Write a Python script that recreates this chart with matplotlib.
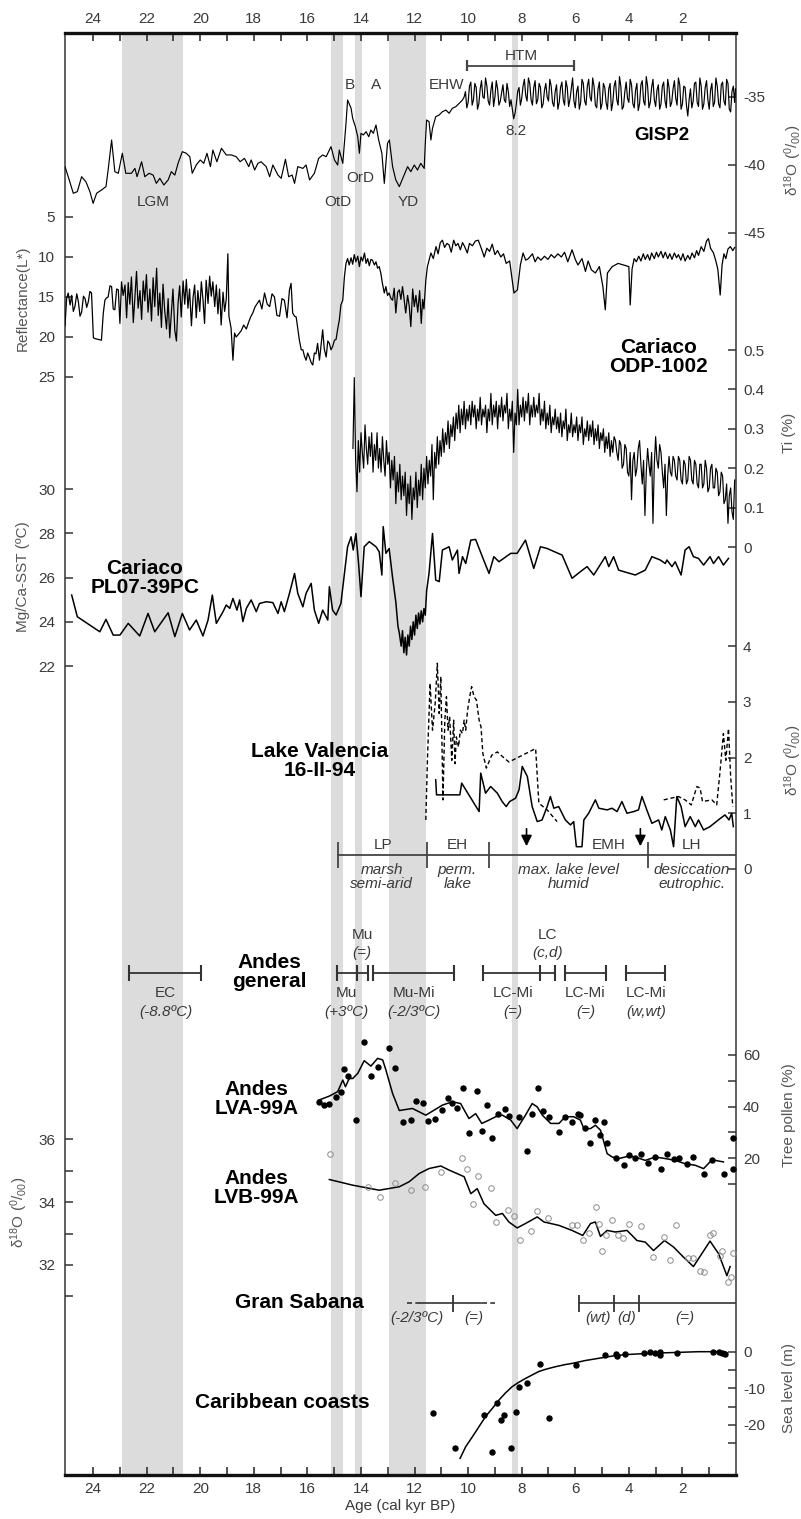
import matplotlib
matplotlib.use("Agg")
import matplotlib.pyplot as plt
import numpy as np

plt.rcParams["font.family"] = ["Liberation Sans", "DejaVu Sans"]
plt.rcParams["axes.unicode_minus"] = False
plt.rcParams["mathtext.fontset"] = "custom"
plt.rcParams["mathtext.rm"] = "Liberation Sans"
plt.rcParams["mathtext.it"] = "Liberation Sans:italic"

# ---------------------------------------------------------------
#  data (age in cal kyr BP, value)
# ---------------------------------------------------------------
bands = [(22.94, 20.64), (15.12, 14.68), (14.21, 13.96), (12.95, 11.58), (8.35, 8.14)]

gisp2 = [(25.05, -40.12), (24.93, -40.86), (24.74, -42.08), (24.59, -41.96), (24.43, -40.86),
         (24.27, -41.23), (24.12, -41.96), (24.00, -42.82), (23.87, -42.08), (23.69, -41.84),
         (23.52, -41.59), (23.44, -40.37), (23.31, -38.16), (23.19, -40.49), (23.06, -40.61),
         (22.91, -39.14), (22.78, -40.61), (22.57, -40.61), (22.44, -40.25), (22.36, -40.86),
         (22.19, -39.76), (22.07, -40.86), (21.91, -40.61), (21.76, -40.74), (21.64, -41.35),
         (21.51, -40.98), (21.36, -41.47), (21.20, -41.10), (21.08, -40.49), (20.95, -40.74),
         (20.83, -39.88), (20.67, -39.02), (20.52, -39.14), (20.39, -39.39), (20.30, -40.61),
         (20.15, -40.00), (20.00, -39.63), (19.87, -39.88), (19.75, -39.14), (19.62, -40.12),
         (19.53, -38.90), (19.38, -39.76), (19.21, -38.77), (19.03, -39.26), (18.84, -39.26),
         (18.66, -39.39), (18.51, -39.76), (18.35, -39.51), (18.19, -40.12), (18.10, -39.63),
         (17.97, -40.37), (17.85, -39.88), (17.73, -39.76), (17.54, -40.12), (17.41, -40.86),
         (17.29, -40.00), (17.10, -40.74), (16.98, -40.98), (16.82, -39.58), (16.70, -40.86),
         (16.57, -40.74), (16.48, -41.35), (16.36, -40.12), (16.17, -40.25), (16.05, -40.00),
         (15.92, -41.10), (15.74, -40.61), (15.58, -39.51), (15.43, -39.26), (15.30, -39.39),
         (15.12, -38.65), (14.99, -39.63), (14.87, -40.00), (14.81, -38.90), (14.68, -39.88),
         (14.56, -36.94), (14.50, -35.22), (14.37, -35.83), (14.31, -36.57), (14.21, -37.18),
         (14.12, -37.92), (14.06, -39.14), (14.00, -37.67), (13.91, -37.79), (13.81, -37.55),
         (13.71, -37.92), (13.63, -37.43), (13.54, -37.67), (13.44, -37.06), (13.34, -38.16),
         (13.22, -39.14), (13.13, -41.35), (13.01, -38.41), (12.94, -38.16), (12.82, -40.12),
         (12.70, -41.10), (12.57, -41.59), (12.39, -40.74), (12.26, -40.12), (12.14, -40.49),
         (12.01, -40.00), (11.89, -40.37), (11.77, -39.88), (11.64, -40.25), (11.60, -38.41),
         (11.55, -36.69), (11.46, -36.81), (11.39, -38.16), (11.33, -37.30), (11.21, -36.45),
         (11.08, -36.32), (10.96, -36.08), (10.83, -35.96), (10.71, -36.20), (10.59, -35.83),
         (10.46, -35.71), (10.34, -35.47), (10.21, -35.22),
         (10.15, -35.0), (10.10, -34.6), (10.05, -35.8), (10.00, -35.4), (9.95, -34.2), (9.90, -33.9),
         (9.85, -35.6), (9.80, -35.2), (9.75, -34.0), (9.70, -34.3), (9.65, -35.9), (9.60, -35.5),
         (9.55, -34.4), (9.50, -33.8), (9.45, -35.0), (9.40, -35.1), (9.35, -33.6), (9.30, -34.2),
         (9.25, -35.3), (9.20, -35.6), (9.15, -34.5), (9.10, -33.9), (9.05, -35.7), (9.00, -35.0),
         (8.95, -33.8), (8.90, -34.4), (8.85, -35.6), (8.80, -35.3), (8.75, -34.7), (8.70, -34.1),
         (8.65, -35.2), (8.60, -35.4), (8.55, -34.0), (8.50, -34.6), (8.45, -35.7), (8.40, -35.2),
         (8.35, -35.9), (8.30, -36.6), (8.25, -36.2), (8.20, -35.5), (8.15, -34.6), (8.10, -34.3),
         (8.05, -35.6), (8.00, -35.1), (7.95, -34.2), (7.90, -33.7), (7.85, -34.9), (7.80, -35.3),
         (7.75, -33.6), (7.70, -34.0), (7.65, -35.2), (7.60, -35.6), (7.55, -34.3), (7.50, -33.8),
         (7.45, -35.5), (7.40, -35.2), (7.35, -34.0), (7.30, -34.3), (7.25, -35.8), (7.20, -35.5),
         (7.15, -34.5), (7.10, -34.0), (7.05, -35.0), (7.00, -35.3), (6.95, -33.7), (6.90, -34.2),
         (6.85, -35.4), (6.80, -35.7), (6.75, -34.6), (6.70, -34.1), (6.65, -35.9), (6.60, -35.4),
         (6.55, -34.3), (6.50, -33.9), (6.45, -35.2), (6.40, -35.6), (6.35, -33.8), (6.30, -34.3),
         (6.25, -35.7), (6.20, -35.2), (6.15, -34.4), (6.10, -33.6), (6.05, -35.3), (6.00, -35.8),
         (5.95, -34.6), (5.90, -34.2), (5.85, -35.9), (5.80, -35.4), (5.75, -33.7), (5.70, -34.0),
         (5.65, -35.3), (5.60, -35.6), (5.55, -34.2), (5.50, -33.7), (5.45, -35.0), (5.40, -35.3),
         (5.35, -33.6), (5.30, -34.2), (5.25, -35.6), (5.20, -35.8), (5.15, -34.4), (5.10, -33.9),
         (5.05, -35.9), (5.00, -35.5), (4.95, -34.0), (4.90, -34.3), (4.85, -35.4), (4.80, -35.9),
         (4.75, -34.4), (4.70, -34.0), (4.65, -36.0), (4.60, -35.4), (4.55, -34.2), (4.50, -33.8),
         (4.45, -35.2), (4.40, -35.6), (4.35, -33.5), (4.30, -34.2), (4.25, -35.9), (4.20, -35.7),
         (4.15, -34.6), (4.10, -33.9), (4.05, -35.1), (4.00, -35.4), (3.95, -33.7), (3.90, -34.1),
         (3.85, -35.5), (3.80, -35.8), (3.75, -34.5), (3.70, -34.0), (3.65, -36.0), (3.60, -35.5),
         (3.55, -34.1), (3.50, -33.8), (3.45, -35.3), (3.40, -35.6), (3.35, -33.5), (3.30, -34.2),
         (3.25, -35.8), (3.20, -35.4), (3.15, -34.3), (3.10, -33.7), (3.05, -35.2), (3.00, -35.7),
         (2.95, -34.5), (2.90, -34.1), (2.85, -35.9), (2.80, -35.5), (2.75, -34.2), (2.70, -33.9),
         (2.65, -35.3), (2.60, -35.8), (2.55, -33.7), (2.50, -34.3), (2.45, -35.7), (2.40, -35.4),
         (2.35, -34.4), (2.30, -33.8), (2.25, -35.1), (2.20, -35.6), (2.15, -33.6), (2.10, -34.1),
         (2.05, -35.9), (2.00, -35.5), (1.95, -34.2), (1.90, -34.3), (1.85, -35.6), (1.80, -36.4),
         (1.75, -35.2), (1.70, -34.4), (1.65, -35.8), (1.60, -35.3), (1.55, -34.0), (1.50, -33.9),
         (1.45, -35.4), (1.40, -35.7), (1.35, -33.6), (1.30, -34.2), (1.25, -35.9), (1.20, -35.5),
         (1.15, -34.3), (1.10, -33.8), (1.05, -35.2), (1.00, -35.9), (0.95, -34.5), (0.90, -34.0),
         (0.85, -35.7), (0.80, -35.4), (0.75, -33.6), (0.70, -34.2), (0.65, -35.5), (0.60, -35.8),
         (0.55, -34.1), (0.50, -33.9), (0.45, -35.3), (0.40, -35.6), (0.35, -33.7), (0.30, -34.0),
         (0.25, -35.9), (0.20, -36.1), (0.15, -34.6), (0.10, -34.2), (0.05, -35.4), (0.02, -34.4)]

reflectance = [(25.05, 18.6), (24.99, 15.2), (24.93, 14.5), (24.86, 16.0), (24.80, 14.8), (24.74, 16.8),
               (24.68, 16.2), (24.61, 14.6), (24.55, 15.6), (24.49, 17.4), (24.43, 16.9), (24.36, 14.9),
               (24.30, 15.2), (24.24, 16.3), (24.18, 15.6), (24.12, 14.3), (24.06, 14.5), (23.99, 20.1),
               (23.93, 20.2), (23.81, 20.3), (23.69, 20.4), (23.62, 17.0), (23.56, 15.4), (23.50, 15.1),
               (23.44, 15.0), (23.37, 13.6), (23.31, 13.7), (23.25, 16.5), (23.19, 16.6), (23.12, 14.0),
               (23.06, 14.1), (23.00, 18.3), (22.94, 13.1), (22.88, 14.8), (22.81, 13.5), (22.75, 17.6),
               (22.69, 13.2), (22.63, 15.9), (22.57, 12.5), (22.50, 18.2), (22.44, 15.0), (22.38, 11.8),
               (22.32, 16.4), (22.25, 14.2), (22.19, 17.8), (22.13, 13.0), (22.07, 15.5), (22.01, 12.2),
               (21.95, 16.9), (21.88, 14.0), (21.82, 18.0), (21.76, 12.6), (21.70, 16.2), (21.63, 11.4),
               (21.57, 17.3), (21.51, 14.5), (21.45, 18.8), (21.39, 13.4), (21.33, 16.6), (21.26, 19.0),
               (21.20, 15.2), (21.14, 20.1), (21.08, 17.0), (21.02, 14.0), (20.95, 19.2), (20.89, 20.5),
               (20.83, 15.8), (20.77, 13.6), (20.71, 17.5), (20.64, 13.0), (20.58, 15.9), (20.52, 12.8),
               (20.46, 16.4), (20.40, 14.0), (20.33, 18.6), (20.27, 15.1), (20.21, 13.5), (20.15, 17.6),
               (20.09, 14.2), (20.02, 16.8), (19.96, 13.1), (19.90, 15.3), (19.84, 18.3), (19.78, 12.9),
               (19.71, 15.8), (19.65, 12.4), (19.59, 14.9), (19.53, 13.1), (19.46, 16.2), (19.40, 13.5),
               (19.34, 17.1), (19.28, 14.0), (19.22, 18.5), (19.15, 14.4), (19.09, 16.8), (19.03, 15.3),
               (18.97, 9.6), (18.93, 17.4), (18.85, 18.9), (18.78, 22.9), (18.72, 19.5), (18.66, 20.0),
               (18.56, 19.6), (18.47, 19.2), (18.38, 18.5), (18.28, 19.0), (18.20, 18.2), (18.12, 17.5),
               (18.04, 17.0), (17.95, 16.2), (17.87, 15.8), (17.79, 15.4), (17.70, 16.5), (17.60, 14.5),
               (17.50, 15.9), (17.41, 16.2), (17.32, 14.6), (17.23, 15.0), (17.14, 17.3), (17.04, 17.4),
               (16.95, 15.2), (16.86, 15.4), (16.76, 17.6), (16.67, 14.1), (16.61, 13.3), (16.55, 17.0),
               (16.48, 17.4), (16.42, 17.5), (16.36, 19.0), (16.30, 20.4), (16.23, 21.6), (16.17, 21.6),
               (16.11, 22.4), (16.05, 22.9), (15.99, 22.0), (15.93, 22.5), (15.86, 23.2), (15.80, 23.5),
               (15.74, 22.0), (15.68, 22.1), (15.62, 20.8), (15.55, 22.9), (15.49, 21.0), (15.43, 19.1),
               (15.37, 21.5), (15.30, 22.5), (15.24, 20.5), (15.18, 20.8), (15.12, 21.6), (15.06, 21.2),
               (14.99, 20.4), (14.93, 20.3), (14.87, 19.0), (14.81, 17.9), (14.75, 16.0), (14.68, 15.4),
               (14.62, 12.5), (14.56, 10.8), (14.50, 10.2), (14.44, 11.0), (14.37, 10.1), (14.31, 10.9),
               (14.25, 9.7), (14.19, 10.6), (14.12, 9.9), (14.06, 11.2), (14.00, 10.0), (13.94, 10.5),
               (13.87, 9.5), (13.81, 10.8), (13.75, 10.2), (13.69, 11.1), (13.63, 10.3), (13.57, 10.4),
               (13.50, 11.0), (13.44, 10.6), (13.38, 11.4), (13.32, 11.2), (13.26, 12.0), (13.20, 13.3),
               (13.13, 14.5), (13.07, 13.7), (13.01, 14.8), (12.95, 14.5), (12.88, 15.2), (12.82, 15.4),
               (12.76, 13.9), (12.70, 17.0), (12.63, 14.4), (12.57, 14.1), (12.51, 15.3), (12.45, 13.7),
               (12.40, 15.0), (12.33, 17.0), (12.26, 14.8), (12.20, 16.1), (12.14, 18.7), (12.07, 14.0),
               (12.01, 16.2), (11.95, 14.8), (11.88, 16.9), (11.81, 14.2), (11.75, 18.3), (11.70, 15.3),
               (11.65, 16.5), (11.58, 12.9), (11.52, 11.2), (11.46, 10.4), (11.39, 9.5), (11.30, 10.2),
               (11.20, 8.7), (11.12, 9.6), (11.04, 8.2), (10.96, 7.9), (10.88, 8.8), (10.79, 8.3),
               (10.71, 8.5), (10.63, 9.4), (10.54, 7.9), (10.46, 8.6), (10.38, 8.3), (10.29, 9.1),
               (10.21, 8.2), (10.13, 8.7), (10.03, 9.5), (9.95, 8.3), (9.84, 8.6), (9.73, 8.0),
               (9.62, 7.9), (9.50, 9.0), (9.40, 10.0), (9.30, 8.9), (9.20, 9.3), (9.10, 8.4),
               (9.00, 9.7), (8.90, 9.2), (8.78, 10.0), (8.68, 9.6), (8.58, 10.8), (8.45, 10.5),
               (8.29, 14.5), (8.16, 14.1), (8.05, 11.0), (7.95, 9.5), (7.85, 10.4), (7.75, 10.2),
               (7.60, 9.6), (7.50, 10.6), (7.40, 10.0), (7.28, 10.4), (7.15, 9.9), (7.02, 10.3),
               (6.90, 9.7), (6.78, 10.1), (6.65, 9.6), (6.52, 10.0), (6.40, 9.4), (6.28, 10.6),
               (6.12, 9.1), (6.00, 10.3), (5.90, 11.0), (5.75, 10.2), (5.62, 11.8), (5.52, 10.5),
               (5.40, 11.6), (5.25, 12.0), (5.10, 11.2), (4.97, 13.7), (4.88, 16.6), (4.80, 12.0),
               (4.62, 11.2), (4.40, 10.8), (4.20, 11.0), (4.00, 11.2), (3.95, 16.0), (3.88, 11.5),
               (3.80, 10.2), (3.72, 10.6), (3.63, 9.9), (3.55, 10.5), (3.46, 9.6), (3.39, 10.3),
               (3.30, 9.7), (3.22, 10.4), (3.15, 9.5), (3.05, 10.2), (2.97, 9.4), (2.90, 10.0),
               (2.80, 9.3), (2.72, 10.1), (2.64, 9.4), (2.55, 10.2), (2.47, 9.6), (2.39, 10.3),
               (2.30, 9.5), (2.22, 10.1), (2.15, 9.7), (2.06, 10.4), (1.98, 9.6), (1.90, 10.5),
               (1.80, 9.8), (1.72, 10.3), (1.64, 9.5), (1.55, 10.1), (1.47, 9.2), (1.40, 9.8),
               (1.30, 8.7), (1.20, 9.3), (1.10, 8.0), (1.03, 7.7), (0.95, 8.9), (0.84, 9.5),
               (0.76, 10.4), (0.68, 11.5), (0.59, 14.75), (0.52, 11.0), (0.45, 9.6), (0.38, 10.2),
               (0.30, 9.0), (0.21, 8.7), (0.12, 9.2), (0.05, 8.8)]

ti = [(14.30, 0.25), (14.25, 0.43), (14.20, 0.22), (14.15, 0.14), (14.10, 0.27), (14.05, 0.19), (14.00, 0.29),
      (13.95, 0.24), (13.90, 0.20), (13.85, 0.31), (13.80, 0.25), (13.75, 0.21), (13.70, 0.28), (13.65, 0.23),
      (13.60, 0.29), (13.55, 0.19), (13.50, 0.26), (13.45, 0.22), (13.40, 0.29), (13.35, 0.20), (13.30, 0.25),
      (13.25, 0.19), (13.20, 0.28), (13.15, 0.22), (13.10, 0.18), (13.05, 0.27), (13.00, 0.21), (12.95, 0.24),
      (12.90, 0.15), (12.85, 0.22), (12.80, 0.17), (12.75, 0.23), (12.70, 0.11), (12.65, 0.19), (12.60, 0.14),
      (12.55, 0.21), (12.50, 0.12), (12.45, 0.18), (12.40, 0.13), (12.35, 0.19), (12.30, 0.08), (12.25, 0.16),
      (12.20, 0.11), (12.15, 0.18), (12.10, 0.07), (12.05, 0.15), (12.00, 0.12), (11.95, 0.19), (11.90, 0.10),
      (11.85, 0.17), (11.80, 0.13), (11.75, 0.21), (11.70, 0.12), (11.65, 0.20), (11.60, 0.15), (11.55, 0.23),
      (11.50, 0.16), (11.45, 0.22), (11.40, 0.18), (11.35, 0.26), (11.30, 0.12), (11.25, 0.24), (11.20, 0.20),
      (11.15, 0.28), (11.10, 0.21), (11.05, 0.27), (11.00, 0.23), (10.95, 0.30), (10.90, 0.24), (10.85, 0.29),
      (10.80, 0.26), (10.75, 0.32), (10.70, 0.25), (10.65, 0.31), (10.60, 0.28), (10.55, 0.33), (10.50, 0.27),
      (10.45, 0.34), (10.40, 0.30), (10.35, 0.36), (10.30, 0.29), (10.25, 0.35), (10.20, 0.31), (10.15, 0.37),
      (10.10, 0.30), (10.05, 0.35), (10.00, 0.32), (9.95, 0.36), (9.90, 0.31), (9.85, 0.37), (9.80, 0.33),
      (9.75, 0.36), (9.70, 0.30), (9.65, 0.35), (9.60, 0.32), (9.55, 0.38), (9.50, 0.31), (9.45, 0.35),
      (9.40, 0.33), (9.35, 0.36), (9.30, 0.29), (9.25, 0.35), (9.20, 0.32), (9.15, 0.39), (9.10, 0.31),
      (9.05, 0.36), (9.00, 0.33), (8.95, 0.37), (8.90, 0.30), (8.85, 0.36), (8.80, 0.33), (8.75, 0.38),
      (8.70, 0.32), (8.65, 0.36), (8.60, 0.34), (8.55, 0.39), (8.50, 0.30), (8.45, 0.35), (8.40, 0.32),
      (8.35, 0.37), (8.30, 0.24), (8.25, 0.34), (8.20, 0.31), (8.15, 0.40), (8.10, 0.31), (8.05, 0.36),
      (8.00, 0.33), (7.95, 0.38), (7.90, 0.32), (7.85, 0.37), (7.80, 0.34), (7.75, 0.39), (7.70, 0.31),
      (7.65, 0.36), (7.60, 0.33), (7.55, 0.38), (7.50, 0.33), (7.45, 0.36), (7.40, 0.34), (7.35, 0.39),
      (7.30, 0.31), (7.25, 0.35), (7.20, 0.32), (7.15, 0.37), (7.10, 0.30), (7.05, 0.34), (7.00, 0.31),
      (6.95, 0.36), (6.90, 0.29), (6.85, 0.33), (6.80, 0.31), (6.75, 0.35), (6.70, 0.30), (6.65, 0.33),
      (6.60, 0.29), (6.55, 0.34), (6.50, 0.28), (6.45, 0.32), (6.40, 0.30), (6.35, 0.35), (6.30, 0.27),
      (6.25, 0.31), (6.20, 0.29), (6.15, 0.34), (6.10, 0.28), (6.05, 0.31), (6.00, 0.29), (5.95, 0.33),
      (5.90, 0.27), (5.85, 0.31), (5.80, 0.29), (5.75, 0.33), (5.70, 0.26), (5.65, 0.30), (5.60, 0.28),
      (5.55, 0.32), (5.50, 0.27), (5.45, 0.31), (5.40, 0.28), (5.35, 0.32), (5.30, 0.26), (5.25, 0.30),
      (5.20, 0.27), (5.15, 0.31), (5.10, 0.25), (5.05, 0.29), (5.00, 0.27), (4.95, 0.30), (4.90, 0.24),
      (4.85, 0.28), (4.80, 0.25), (4.75, 0.29), (4.70, 0.23), (4.65, 0.27), (4.60, 0.24), (4.55, 0.28),
      (4.50, 0.27), (4.45, 0.24), (4.40, 0.22), (4.35, 0.27), (4.30, 0.26), (4.25, 0.20), (4.20, 0.21),
      (4.15, 0.26), (4.10, 0.25), (4.05, 0.19), (4.00, 0.18), (3.95, 0.24), (3.90, 0.12), (3.85, 0.22),
      (3.80, 0.24), (3.75, 0.18), (3.70, 0.20), (3.65, 0.25), (3.60, 0.27), (3.55, 0.21), (3.50, 0.16),
      (3.45, 0.22), (3.40, 0.08), (3.35, 0.19), (3.30, 0.25), (3.25, 0.21), (3.20, 0.18), (3.15, 0.24),
      (3.10, 0.06), (3.05, 0.21), (3.00, 0.28), (2.95, 0.22), (2.90, 0.20), (2.85, 0.26), (2.80, 0.24),
      (2.75, 0.19), (2.70, 0.15), (2.65, 0.21), (2.60, 0.08), (2.55, 0.18), (2.50, 0.23), (2.45, 0.19),
      (2.40, 0.18), (2.35, 0.23), (2.30, 0.22), (2.25, 0.18), (2.20, 0.17), (2.15, 0.23), (2.10, 0.22),
      (2.05, 0.17), (2.00, 0.16), (1.95, 0.22), (1.90, 0.21), (1.85, 0.16), (1.80, 0.17), (1.75, 0.23),
      (1.70, 0.22), (1.65, 0.17), (1.60, 0.16), (1.55, 0.22), (1.50, 0.21), (1.45, 0.16), (1.40, 0.15),
      (1.35, 0.21), (1.30, 0.21), (1.25, 0.15), (1.20, 0.16), (1.15, 0.22), (1.10, 0.20), (1.05, 0.14),
      (1.00, 0.15), (0.95, 0.20), (0.90, 0.21), (0.85, 0.15), (0.80, 0.15), (0.75, 0.20), (0.70, 0.19),
      (0.65, 0.13), (0.60, 0.14), (0.55, 0.19), (0.50, 0.18), (0.45, 0.11), (0.40, 0.12), (0.35, 0.16),
      (0.30, 0.06), (0.25, 0.13), (0.20, 0.15), (0.15, 0.09), (0.10, 0.07), (0.05, 0.17)]

sst = [(24.80, 25.21), (24.59, 24.23), (23.75, 23.55), (23.52, 24.11), (23.25, 23.40), (23.00, 23.40),
       (22.69, 23.93), (22.26, 23.36), (21.95, 24.38), (21.70, 23.55), (21.20, 24.41), (20.95, 23.33),
       (20.67, 24.38), (20.40, 23.63), (20.15, 24.08), (19.90, 23.36), (19.71, 24.08), (19.55, 25.21),
       (19.40, 23.93), (19.15, 24.46), (19.03, 24.76), (18.90, 24.61), (18.78, 25.06), (18.63, 24.53),
       (18.53, 24.99), (18.41, 24.01), (18.28, 24.61), (18.10, 24.99), (17.91, 24.46), (17.79, 24.83),
       (17.54, 24.91), (17.29, 24.87), (17.10, 24.38), (16.98, 24.91), (16.86, 24.46), (16.67, 25.29),
       (16.48, 26.19), (16.36, 25.29), (16.17, 24.68), (16.05, 25.29), (15.86, 25.74), (15.74, 24.53),
       (15.58, 23.93), (15.43, 24.53), (15.24, 24.08), (15.18, 25.59), (15.06, 24.53), (14.93, 24.31),
       (14.75, 24.83), (14.50, 27.40), (14.37, 27.85), (14.29, 27.25), (14.19, 28.00), (14.09, 26.64),
       (14.00, 25.14), (13.88, 27.40), (13.69, 27.63), (13.44, 27.40), (13.32, 27.17), (13.22, 26.12),
       (13.17, 28.31), (13.07, 27.10), (12.95, 27.32), (12.82, 26.0), (12.70, 24.9), (12.62, 23.8),
       (12.57, 23.5), (12.50, 22.9), (12.45, 23.6), (12.40, 22.6), (12.35, 23.3), (12.30, 22.5),
       (12.25, 23.4), (12.20, 22.9), (12.15, 23.8), (12.10, 23.2), (12.05, 24.0), (12.00, 23.4),
       (11.95, 24.3), (11.90, 23.7), (11.85, 24.4), (11.80, 23.9), (11.75, 24.5), (11.70, 24.0),
       (11.65, 24.6), (11.60, 24.3), (11.55, 25.4), (11.46, 26.2), (11.33, 28.0), (11.21, 25.89),
       (11.08, 25.82), (10.96, 27.25), (10.71, 27.40), (10.59, 26.80), (10.40, 27.25), (10.34, 26.19),
       (10.21, 26.95), (10.09, 26.64), (9.90, 27.70), (9.72, 27.73), (9.47, 26.95), (9.22, 26.19),
       (9.04, 26.95), (8.85, 26.72), (8.41, 27.10), (8.17, 27.10), (7.86, 27.70), (7.55, 26.42),
       (7.30, 27.40), (7.05, 27.32), (6.49, 27.02), (6.12, 25.97), (5.81, 26.27), (5.56, 26.50),
       (5.31, 26.12), (4.88, 26.95), (4.75, 26.50), (4.57, 26.95), (4.38, 26.34), (3.76, 26.12),
       (3.39, 26.34), (3.14, 26.95), (2.83, 26.80), (2.64, 26.64), (2.58, 26.80), (2.39, 26.50),
       (2.27, 26.72), (2.05, 26.12), (1.90, 27.25), (1.75, 27.40), (1.59, 26.95), (1.40, 26.87),
       (1.21, 26.57), (0.97, 26.95), (0.84, 26.64), (0.65, 26.95), (0.47, 26.57), (0.28, 26.87)]

valencia_dash_1 = [(11.58, 0.88), (11.52, 1.95), (11.42, 3.33), (11.33, 2.49), (11.23, 2.97), (11.15, 3.69),
                   (11.08, 2.79), (11.02, 3.45), (10.94, 1.24), (10.87, 2.67), (10.81, 3.09), (10.75, 2.49),
                   (10.69, 2.73), (10.61, 1.95), (10.54, 2.67), (10.49, 1.89), (10.44, 2.37), (10.36, 2.19),
                   (10.29, 2.49), (10.21, 2.43), (10.15, 2.67), (10.09, 2.49), (10.02, 2.85), (9.94, 3.09),
                   (9.87, 3.27), (9.78, 3.09), (9.69, 3.03), (9.59, 2.67), (9.52, 2.55), (9.45, 2.07),
                   (9.32, 1.81), (9.12, 2.04), (8.91, 2.10), (8.70, 2.01), (8.48, 1.92), (8.10, 2.01),
                   (7.73, 2.10), (7.48, 2.16), (7.36, 1.18), (7.05, 1.06), (6.68, 0.85)]
valencia_dash_2 = [(2.70, 1.24), (2.15, 1.30), (1.90, 1.24), (1.67, 1.15), (1.46, 1.48), (1.34, 1.45),
                   (1.25, 1.21), (0.90, 1.24), (0.72, 1.15), (0.59, 1.78), (0.47, 2.43), (0.38, 1.95),
                   (0.28, 2.52), (0.20, 1.66), (0.12, 1.12)]
valencia_solid = [(11.21, 1.60), (11.18, 1.33), (10.31, 1.33), (10.24, 1.54), (9.59, 1.03), (9.53, 1.72),
                  (9.35, 1.36), (9.16, 1.48), (8.91, 1.36), (8.73, 1.21), (8.58, 1.12), (8.45, 1.21),
                  (8.23, 1.27), (8.10, 1.42), (7.98, 1.84), (7.79, 1.66), (7.61, 1.12), (7.42, 0.85),
                  (7.24, 0.88), (7.05, 1.12), (6.93, 1.30), (6.80, 1.09), (6.62, 1.12), (6.37, 0.88),
                  (6.18, 0.79), (6.06, 0.85), (5.96, 0.40), (5.75, 0.40), (5.68, 0.88), (5.50, 1.00),
                  (5.25, 1.24), (5.12, 1.09), (4.81, 1.06), (4.63, 1.09), (4.44, 1.03), (4.26, 1.21),
                  (4.07, 1.00), (3.82, 1.03), (3.64, 1.06), (3.51, 1.30), (3.33, 1.06), (3.14, 0.82),
                  (2.89, 0.88), (2.77, 0.70), (2.64, 0.94), (2.45, 0.70), (2.33, 0.40), (2.21, 1.30),
                  (2.05, 1.12), (1.90, 0.76), (1.71, 0.94), (1.52, 0.76), (1.40, 0.88), (1.21, 0.70),
                  (0.97, 0.76), (0.66, 0.88), (0.41, 0.97), (0.26, 0.88), (0.16, 1.00), (0.10, 0.76)]

lva_line = [(15.58, 42.5), (15.18, 44.1), (14.87, 45.8), (14.68, 50.3), (14.58, 47.7), (14.44, 50.9),
            (14.31, 50.9), (14.12, 52.9), (13.88, 57.8), (13.63, 55.7), (13.38, 58.7), (13.19, 58.1),
            (13.07, 54.2), (12.82, 45.1), (12.57, 38.5), (12.08, 39.3), (11.58, 36.7), (10.96, 40.6),
            (10.59, 41.9), (10.28, 41.2), (9.97, 35.4), (9.72, 37.3), (9.49, 33.5), (9.22, 34.8),
            (8.97, 36.1), (8.72, 36.7), (8.41, 34.8), (8.17, 31.5), (7.86, 36.7), (7.61, 41.2),
            (7.42, 39.9), (7.23, 36.7), (6.92, 33.5), (6.61, 33.5), (6.37, 36.1), (6.06, 36.1),
            (5.81, 34.8), (5.68, 31.5), (5.43, 31.5), (5.25, 32.8), (5.06, 30.9), (4.81, 21.8),
            (4.62, 20.5), (4.38, 19.9), (4.01, 20.8), (3.76, 20.5), (3.39, 19.2), (3.01, 20.5),
            (2.64, 19.9), (2.27, 19.2), (1.90, 17.9), (1.52, 17.3), (1.21, 16.0), (0.97, 18.6),
            (0.78, 19.2), (0.47, 18.6)]
lva_dots = [(15.58, 41.9), (15.37, 40.6), (15.18, 41.2), (14.93, 43.8), (14.75, 45.8), (14.62, 54.4),
            (14.50, 51.8), (14.19, 34.8), (13.88, 65.2), (13.63, 51.8), (13.38, 55.5), (12.95, 62.6),
            (12.72, 54.8), (12.45, 34.1), (12.14, 34.8), (11.95, 42.3), (11.70, 41.5), (11.48, 34.4),
            (11.23, 35.4), (10.96, 38.6), (10.77, 43.2), (10.59, 41.5), (10.40, 39.3), (10.18, 47.4),
            (9.97, 29.8), (9.68, 46.1), (9.47, 30.5), (9.28, 40.6), (9.12, 28.0), (8.87, 37.0),
            (8.62, 38.9), (8.48, 36.3), (8.10, 36.1), (7.79, 22.7), (7.61, 37.1), (7.38, 47.1),
            (7.21, 38.3), (6.99, 36.1), (6.59, 30.2), (6.39, 36.1), (6.14, 34.1), (5.89, 37.0),
            (5.81, 36.7), (5.65, 31.8), (5.46, 26.0), (5.27, 34.8), (5.06, 28.9), (4.94, 34.1),
            (4.81, 26.0), (4.48, 20.3), (4.19, 17.3), (4.01, 21.2), (3.76, 20.3), (3.54, 21.8),
            (3.29, 18.3), (3.04, 20.5), (2.79, 16.0), (2.58, 21.6), (2.33, 19.9), (2.14, 20.3),
            (1.83, 17.9), (1.59, 20.5), (1.21, 14.0), (0.88, 19.2), (0.43, 13.8), (0.10, 28.0),
            (0.10, 16.0)]

lvb_line = [(15.18, 34.72), (14.31, 34.54), (13.32, 34.38), (12.57, 34.49), (12.20, 34.65), (11.83, 34.91),
            (11.46, 35.07), (11.02, 35.15), (10.71, 35.02), (10.15, 34.81), (9.90, 34.27), (9.66, 34.43),
            (9.41, 33.95), (8.97, 33.58), (8.72, 33.64), (8.48, 33.37), (8.17, 33.18), (7.86, 33.32),
            (7.42, 33.53), (7.17, 33.37), (6.61, 33.26), (6.12, 33.10), (5.72, 32.94), (5.43, 33.32),
            (5.25, 33.37), (5.06, 32.91), (4.81, 33.10), (4.50, 33.05), (4.07, 33.10), (3.88, 32.94),
            (3.70, 32.78), (3.39, 32.73), (3.08, 32.46), (2.67, 32.78), (2.33, 32.57), (1.96, 32.25),
            (1.59, 31.95), (0.97, 32.76), (0.65, 32.36), (0.34, 31.66), (0.22, 31.95)]
lvb_circles = [(15.15, 35.52), (13.72, 34.49), (13.29, 34.17), (12.72, 34.61), (12.14, 34.38), (11.60, 34.49),
               (11.02, 34.97), (10.24, 35.39), (10.03, 35.04), (9.82, 33.95), (9.62, 34.83), (9.16, 34.45),
               (8.95, 33.37), (8.53, 33.76), (8.29, 33.55), (8.08, 32.80), (7.64, 33.08), (7.42, 33.71),
               (7.01, 33.51), (6.14, 33.26), (5.93, 33.26), (5.72, 32.80), (5.50, 33.02), (5.21, 33.85),
               (5.12, 33.32), (5.00, 32.46), (4.85, 32.94), (4.63, 33.42), (4.40, 32.94), (4.22, 32.87),
               (3.98, 33.32), (3.54, 33.23), (3.11, 32.27), (2.67, 32.89), (2.45, 32.17), (2.23, 33.28),
               (1.80, 32.23), (1.61, 32.23), (1.36, 31.82), (1.18, 31.79), (0.97, 32.96), (0.84, 33.02),
               (0.59, 32.30), (0.51, 32.46), (0.31, 31.45), (0.18, 31.63), (0.12, 32.39)]

sea_curve = [(10.30, -29.1), (10.09, -25.9), (9.84, -23.2), (9.59, -20.4), (9.35, -17.7), (9.10, -15.5),
             (8.85, -13.2), (8.60, -11.2), (8.35, -9.5), (8.10, -8.3), (7.86, -7.3), (7.36, -5.4),
             (7.11, -4.8), (6.74, -4.1), (6.37, -3.5), (6.12, -3.2), (5.62, -2.4), (5.37, -2.1),
             (4.63, -1.2), (4.13, -0.8), (3.63, -0.6), (2.64, -0.3), (1.40, 0.0), (0.40, 0.0)]
sea_dots = [(11.33, -16.8), (10.49, -26.4), (9.41, -17.3), (9.10, -27.3), (8.91, -14.1), (8.79, -18.6),
            (8.66, -17.3), (8.41, -26.4), (8.23, -16.4), (8.10, -9.5), (7.79, -8.6), (7.33, -3.4),
            (6.99, -18.0), (5.99, -3.7), (4.90, -0.9), (4.48, -0.7), (4.44, -1.1), (4.13, -0.7),
            (3.45, -0.3), (3.20, -0.2), (3.01, -0.4), (2.83, -0.9), (2.83, 0.0), (2.21, -0.3),
            (0.84, 0.0), (0.65, -0.2), (0.53, -0.4), (0.40, -0.6)]

# event labels (text, age)
events_top = [("B", 14.40), ("A", 13.45), ("EHW", 10.82)]
events_low = [("LGM", 21.75), ("OtD", 14.86), ("YD", 12.22)]
htm = (10.03, 6.06)

# Lake Valencia zonation
lv_bounds = [14.87, 11.54, 9.22, 3.29]
lv_zones = [("LP", 13.17), ("EH", 10.41), ("EMH", 4.75), ("LH", 1.66)]
lv_desc = [("marsh\nsemi-arid", 13.22), ("perm.\nlake", 10.40),
           ("max. lake level\nhumid", 6.24), ("desiccation\neutrophic.", 1.65)]
lv_arrows = [7.82, 3.57]

# Andes general
andes_bars = [(22.65, 19.96), (14.91, 13.75), (13.54, 10.52), (9.43, 6.76), (6.40, 4.85), (4.09, 2.64)]
andes_ticks = [22.65, 19.96, 14.91, 14.16, 13.75, 13.54, 10.52, 9.43, 7.30, 6.76, 6.40, 4.85, 4.09, 2.64]
andes_below = [("EC", "(-8.8ºC)", 21.30), ("Mu", "(+3ºC)", 14.53), ("Mu-Mi", "(-2/3ºC)", 12.01),
               ("LC-Mi", "(=)", 8.33), ("LC-Mi", "(=)", 5.62), ("LC-Mi", "(w,wt)", 3.36)]
andes_above = [("Mu", "(=)", 13.95), ("LC", "(c,d)", 7.05)]

# Gran Sabana
gs_dashed = [(12.3, 11.8), (9.5, 9.0)]
gs_solid = [(11.8, 9.53), (5.85, 0.0)]
gs_ticks = [10.56, 5.85, 4.57, 3.61]
gs_labels = [("(-2/3ºC)", 11.9), ("(=)", 9.78), ("(wt)", 5.15), ("(d)", 4.09), ("(=)", 1.92)]

# ---------------------------------------------------------------
#  layout (reference pixel rows)
# ---------------------------------------------------------------
W, H = 801, 1519
L, R, T, B = 65, 736, 33, 1475
XMAX, XMIN = 25.05, 0.0
GREY = "#3a3a3a"

fig = plt.figure(figsize=(W / 100, H / 100), dpi=100)
rect = [L / W, 1 - B / H, (R - L) / W, (B - T) / H]
ax = fig.add_axes(rect)
ax.set_xlim(XMAX, XMIN)
ax.set_ylim(B, T)
ax.set_yticks([])

for a0, a1 in bands:
    ax.axvspan(a0, a1, color="#dcdcdc", lw=0, zorder=0)

ax.set_xticks(range(2, 25, 2))
ax.set_xticks(range(1, 25, 2), minor=True)
ax.tick_params(axis="x", which="both", direction="in", top=True, bottom=True,
               labeltop=True, labelbottom=True, length=6, width=1.1, color="#222",
               labelsize=11, labelcolor=GREY, pad=5)
for side in ("top", "bottom"):
    ax.spines[side].set_linewidth(2.4)
    ax.spines[side].set_color("#111")
for side in ("left", "right"):
    ax.spines[side].set_linewidth(1.2)
    ax.spines[side].set_color("#444")
ax.set_xlabel("Age (cal kyr BP)", fontsize=11, color=GREY, labelpad=2)


def overlay(v1, p1, v2, p2, side, ticks, minor=(), ticklabels=None, label=None, label_row=None):
    a = fig.add_axes(rect)
    a.set_xlim(XMAX, XMIN)
    k = (v2 - v1) / (p2 - p1)
    a.set_ylim(v1 + (B - p1) * k, v1 + (T - p1) * k)
    a.patch.set_visible(False)
    for s in a.spines.values():
        s.set_visible(False)
    a.set_xticks([])
    a.set_yticks(ticks)
    if ticklabels is not None:
        a.set_yticklabels(ticklabels)
    a.set_yticks(list(minor), minor=True)
    if side == "right":
        a.yaxis.tick_right()
        a.yaxis.set_label_position("right")
    a.tick_params(axis="y", which="both", direction="in", length=6, width=1.1, color="#333",
                  labelsize=11, labelcolor=GREY, pad=5 if side == "right" else 7)
    if label:
        a.set_ylabel(label, fontsize=11, color="#555")
        xl = (782 - L) / (R - L) if side == "right" else (30 - L) / (R - L)
        a.yaxis.set_label_coords(xl, (B - label_row) / (B - T))
    return a


def xy(pairs):
    return [p[0] for p in pairs], [p[1] for p in pairs]


d18o = r"δ$^{18}$O ($^{0}$/$_{00}$)"

# GISP2
a_g = overlay(-35, 97, -45, 233, "right", [-35, -40, -45], label=d18o, label_row=160)
a_g.plot(*xy(gisp2), color="k", lw=0.85)

# Cariaco reflectance
a_r = overlay(5, 217, 25, 377, "left", [5, 10, 15, 20, 25], label="Reflectance(L*)", label_row=298)
a_r.plot(*xy(reflectance), color="k", lw=0.9)

# Cariaco Ti
a_t = overlay(0.5, 350, 0, 547, "right", [0.5, 0.4, 0.3, 0.2, 0.1, 0],
              ticklabels=["0.5", "0.4", "0.3", "0.2", "0.1", "0"], label="Ti (%)", label_row=433)
a_t.plot(*xy(ti), color="k", lw=0.85)

# Mg/Ca SST
a_s = overlay(30, 489.3, 22, 666, "left", [30, 28, 26, 24, 22], label="Mg/Ca-SST (ºC)", label_row=577)
a_s.plot(*xy(sst), color="k", lw=1.1)

# Lake Valencia
a_v = overlay(4, 646, 0, 869, "right", [4, 3, 2, 1, 0], label=d18o, label_row=760)
a_v.plot(*xy(valencia_dash_1), color="k", lw=1.0, ls=(0, (3, 2)))
a_v.plot(*xy(valencia_dash_2), color="k", lw=1.0, ls=(0, (3, 2)))
a_v.plot(*xy(valencia_solid), color="k", lw=1.1)

# Andes LVA-99A tree pollen
a_p = overlay(60, 1055, 20, 1158.3, "right", [60, 40, 20], minor=[50, 30, 10],
              label="Tree pollen (%)", label_row=1115)
a_p.plot(*xy(lva_line), color="k", lw=1.1)
a_p.plot(*xy(lva_dots), ls="none", marker="o", ms=3.6, color="k")

# Andes LVB-99A d18O
a_b = overlay(36, 1139.3, 32, 1265, "left", [36, 34, 32], minor=[35, 33, 31],
              label=d18o, label_row=1212)
a_b.plot(*xy(lvb_line), color="k", lw=1.1)
a_b.plot(*xy(lvb_circles), ls="none", marker="o", ms=4, mfc="none", mec="#8c8c8c", mew=0.7)

# Caribbean sea level
a_c = overlay(0, 1351.7, -20, 1425, "right", [0, -10, -20], minor=[-5, -15, -25],
              label="Sea level (m)", label_row=1388)
a_c.plot(*xy(sea_curve), color="k", lw=1.1)
a_c.plot(*xy(sea_dots), ls="none", marker="o", ms=3.6, color="k")

# ---------------------------------------------------------------
#  annotations on the main axes (rows)
# ---------------------------------------------------------------
txt = dict(fontsize=11, color=GREY, ha="center", va="center")
bold = dict(fontsize=15, fontweight="bold", color="k", ha="center", va="center", linespacing=1.0)

for s, age in events_top:
    ax.text(age, 85, s, **txt)
for s, age in events_low:
    ax.text(age, 202, s, **txt)
ax.text(14.03, 178, "OrD", **txt)
ax.text(8.23, 131, "8.2", **txt)
ax.text(8.0, 56, "HTM", **txt)
ax.plot(htm, [65.7, 65.7], color="#444", lw=1.3)
ax.vlines(htm, 60, 71, color="#444", lw=1.6)

ax.text(2.77, 135, "GISP2", fontsize=13.5, fontweight="bold", ha="center", va="center")
ax.text(2.90, 357, "Cariaco\nODP-1002", **bold)
ax.text(22.07, 578, "Cariaco\nPL07-39PC", **bold)
ax.text(15.55, 761, "Lake Valencia\n16-II-94", **bold)
ax.text(17.42, 972, "Andes\ngeneral", **bold)
ax.text(17.90, 1099, "Andes\nLVA-99A", **bold)
ax.text(17.90, 1188, "Andes\nLVB-99A", **bold)
ax.text(16.30, 1303, "Gran Sabana", **bold)
ax.text(16.93, 1402, "Caribbean coasts", **bold)

# Lake Valencia zonation
ax.plot([lv_bounds[0], XMIN], [855, 855], color="#444", lw=1.3)
ax.vlines(lv_bounds, 842, 868, color="#444", lw=1.3)
for s, age in lv_zones:
    ax.text(age, 845, s, **txt)
for s, age in lv_desc:
    ax.text(age, 877, s, fontsize=11, color=GREY, ha="center", va="center",
            style="italic", linespacing=1.0)
for age in lv_arrows:
    ax.annotate("", xy=(age, 849), xytext=(age, 826),
                arrowprops=dict(arrowstyle="-|>", color="k", lw=1.2, mutation_scale=16))

# Andes general
for a0, a1 in andes_bars:
    ax.plot([a0, a1], [972.7, 972.7], color="#333", lw=1.3)
ax.vlines(andes_ticks, 964.5, 981, color="#333", lw=1.5)
for top, bot, age in andes_below:
    ax.text(age, 993, top, **txt)
    ax.text(age, 1012, bot, fontsize=11, color=GREY, ha="center", va="center", style="italic")
for top, bot, age in andes_above:
    ax.text(age, 935, top, **txt)
    ax.text(age, 953, bot, fontsize=11, color=GREY, ha="center", va="center", style="italic")

# Gran Sabana
for a0, a1 in gs_dashed:
    ax.plot([a0, a1], [1303.3, 1303.3], color="#333", lw=1.2, ls=(0, (3, 2)))
for a0, a1 in gs_solid:
    ax.plot([a0, a1], [1303.3, 1303.3], color="#333", lw=1.2)
ax.vlines(gs_ticks, 1295, 1312, color="#333", lw=1.3)
for s, age in gs_labels:
    ax.text(age, 1318, s, fontsize=11, color=GREY, ha="center", va="center", style="italic")

fig.savefig("out.png", dpi=100)
